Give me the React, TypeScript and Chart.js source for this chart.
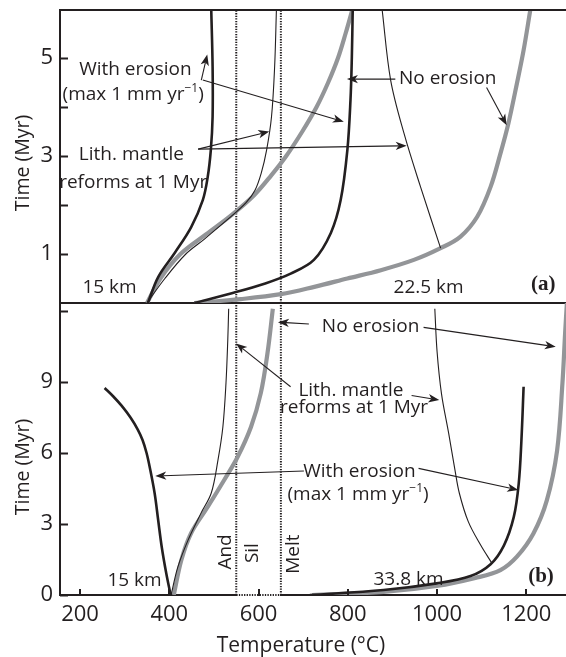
import React, { useEffect, useRef } from "react";
import { Chart, registerables } from "chart.js";

Chart.register(...registerables);

const SANS = '"Open Sans", "Noto Sans", "DejaVu Sans", sans-serif';
const SERIF = '"Liberation Serif", "DejaVu Serif", serif';
const INK = "#231f20";
const GREY = "#939598";

// ---------------- axes ----------------
const TEMP_MIN = 155;
const TEMP_MAX = 1289;
const TEMP_TICKS = [200, 400, 600, 800, 1000, 1200];
const A_TIME_MAX = 5.98;
const A_TIME_TICKS = [1, 2, 3, 4, 5];
const A_TIME_LABELS = [1, 3, 5];
const B_TIME_MAX = 12.34;
const B_TIME_TICKS = [0, 3, 6, 9, 12];
const B_TIME_LABELS = [0, 3, 6, 9];
const ISOGRADS = [550, 650]; // And/Sil and melt boundaries (°C)

// ---------------- panel (a) ----------------
// 15 km
const a15ErosionT = [352, 375, 412, 449, 475, 486, 493, 497, 497, 494];
const a15ErosionTime = [0, 0.53, 1.02, 1.55, 2.1, 2.57, 3.12, 3.8, 4.82, 5.98];
const a15NoErosionT = [350, 380, 425, 482, 540, 590, 628, 662, 698, 730, 756, 778, 795, 810];
const a15NoErosionTime = [0, 0.5, 1.0, 1.4, 1.8, 2.2, 2.6, 3.0, 3.5, 4.0, 4.5, 5.0, 5.5, 5.98];
const a15LithT = [350, 390, 437, 478, 530, 572, 592, 606, 618, 629, 636, 640];
const a15LithTime = [0, 0.5, 1.0, 1.3, 1.7, 2.05, 2.3, 2.65, 3.12, 3.8, 4.82, 5.98];
// 22.5 km
const a22ErosionT = [456, 540, 615, 672, 724, 762, 784, 799, 806, 809, 811];
const a22ErosionTime = [0, 0.2, 0.4, 0.6, 0.88, 1.43, 2.1, 3.12, 4.14, 5.0, 5.98];
const a22NoErosionT = [456, 560, 650, 725, 799, 874, 948, 1008, 1052, 1090, 1120, 1142, 1160, 1179, 1194, 1209];
const a22NoErosionTime = [0, 0.08, 0.18, 0.33, 0.5, 0.67, 0.88, 1.12, 1.35, 1.76, 2.37, 3.05, 3.67, 4.48, 5.16, 5.98];
const a22LithT = [1008, 963, 926, 896, 877];
const a22LithTime = [1.12, 2.37, 3.46, 4.55, 5.98];

// ---------------- panel (b) ----------------
// 15 km
const b15ErosionT = [403, 393, 383, 375, 367, 356, 349, 340, 329, 313, 293, 274, 255];
const b15ErosionTime = [0, 0.93, 2.03, 3.17, 4.31, 5.41, 6.0, 6.55, 7.0, 7.5, 8.0, 8.4, 8.75];
const b15NoErosionT = [410, 427, 449, 486, 523, 553, 583, 605, 620, 632];
const b15NoErosionTime = [0, 1.48, 2.62, 3.72, 4.86, 5.83, 7.1, 8.53, 10.22, 12.1];
const b15LithT = [404, 419, 442, 471, 494, 509, 520, 527, 531, 533];
const b15LithTime = [0, 1.18, 2.32, 3.46, 4.31, 5.7, 7.1, 8.96, 10.77, 12.1];
// 33.8 km
const b34ErosionT = [715, 880, 999, 1075, 1120, 1150, 1172, 1183, 1189, 1194];
const b34ErosionTime = [0, 0.21, 0.49, 0.8, 1.3, 2.1, 3.3, 4.7, 6.5, 8.8];
const b34NoErosionT = [720, 880, 999, 1086, 1142, 1179, 1216, 1246, 1269, 1281, 1287, 1291];
const b34NoErosionTime = [0, 0.13, 0.38, 0.72, 1.05, 1.62, 2.6, 4.0, 6.1, 8.94, 11.06, 12.34];
const b34LithT = [1123, 1098, 1070, 1050, 1040, 1026, 1010, 1000, 995];
const b34LithTime = [1.34, 2.1, 3.1, 4.3, 5.3, 6.84, 8.5, 10.3, 12.1];

// ---------------- annotations (data coordinates: T °C, t Myr) ----------------
type Part = { s: string; sup?: boolean };
type Note = { parts: Part[]; T: number; t: number; kind?: "serif" | "rot" };
type Arrow = [number, number, number, number];

const SUP_M1: Part[] = [{ s: "(max 1 mm yr" }, { s: "\u22121", sup: true }, { s: ")" }];

const A_NOTES: Note[] = [
  { parts: [{ s: "With erosion" }], T: 324, t: 4.65 },
  { parts: SUP_M1, T: 319, t: 4.14 },
  { parts: [{ s: "Lith. mantle" }], T: 315, t: 2.92 },
  { parts: [{ s: "reforms at 1 Myr" }], T: 319, t: 2.35 },
  { parts: [{ s: "No erosion" }], T: 1024, t: 4.47 },
  { parts: [{ s: "15 km" }], T: 266, t: 0.21 },
  { parts: [{ s: "22.5 km" }], T: 981, t: 0.21 },
  { parts: [{ s: "(a)" }], T: 1238, t: 0.265, kind: "serif" },
];
const A_ARROWS: Arrow[] = [
  [471.7, 4.55, 485, 5.07],
  [475, 4.55, 791, 3.7],
  [464.6, 3.14, 624, 3.5],
  [464.6, 3.14, 932, 3.21],
  [906.5, 4.57, 798, 4.57],
  [1111, 4.4, 1156, 3.63],
];

const B_NOTES: Note[] = [
  { parts: [{ s: "No erosion" }], T: 851, t: 11.12 },
  { parts: [{ s: "Lith. mantle" }], T: 807, t: 8.43 },
  { parts: [{ s: "reforms at 1 Myr" }], T: 814, t: 7.69 },
  { parts: [{ s: "With erosion" }], T: 826, t: 4.99 },
  { parts: SUP_M1, T: 823, t: 4.01 },
  { parts: [{ s: "And" }], T: 538, t: 1.82, kind: "rot" },
  { parts: [{ s: "Sil" }], T: 599, t: 1.77, kind: "rot" },
  { parts: [{ s: "Melt" }], T: 690, t: 1.73, kind: "rot" },
  { parts: [{ s: "15 km" }], T: 322, t: 0.38 },
  { parts: [{ s: "33.8 km" }], T: 936, t: 0.42 },
  { parts: [{ s: "(b)" }], T: 1233, t: 0.56, kind: "serif" },
];
const B_ARROWS: Arrow[] = [
  [712.7, 11.45, 643.5, 11.53],
  [969.8, 11.31, 1266, 10.49],
  [671.8, 8.8, 549.6, 10.63],
  [943, 8.43, 1005, 8.24],
  [701.6, 5.24, 368.5, 5.03],
  [958.6, 5.35, 1182, 4.44],
];

// ---------------- helpers ----------------
function pts(T: number[], time: number[]) {
  return T.map((x, i) => ({ x, y: time[i] }));
}

function line(T: number[], time: number[], kind: "thick" | "thin" | "grey") {
  const style =
    kind === "thick"
      ? { borderColor: INK, borderWidth: 2.6, order: 0 }
      : kind === "thin"
      ? { borderColor: INK, borderWidth: 1.1, order: 1 }
      : { borderColor: GREY, borderWidth: 4.2, order: 2 };
  return {
    data: pts(T, time),
    showLine: true,
    pointRadius: 0,
    tension: 0.35,
    fill: false,
    ...style,
  };
}

function isograd(T: number, tmax: number) {
  return {
    data: [
      { x: T, y: 0 },
      { x: T, y: tmax },
    ],
    showLine: true,
    pointRadius: 0,
    borderColor: INK,
    borderWidth: 2,
    borderDash: [1.3, 1.3],
    order: 3,
  };
}

function drawArrow(ctx: CanvasRenderingContext2D, x0: number, y0: number, x1: number, y1: number) {
  const a = Math.atan2(y1 - y0, x1 - x0);
  const L = 11;
  const W = 4.2;
  const c = Math.cos(a);
  const s = Math.sin(a);
  const bx = x1 - L * c;
  const by = y1 - L * s;
  const nx = x1 - (L - 3) * c;
  const ny = y1 - (L - 3) * s;
  ctx.beginPath();
  ctx.moveTo(x0, y0);
  ctx.lineTo(nx, ny);
  ctx.lineWidth = 1.1;
  ctx.strokeStyle = INK;
  ctx.stroke();
  ctx.beginPath();
  ctx.moveTo(x1, y1);
  ctx.lineTo(bx - W * s, by + W * c);
  ctx.lineTo(nx, ny);
  ctx.lineTo(bx + W * s, by - W * c);
  ctx.closePath();
  ctx.fillStyle = INK;
  ctx.fill();
}

function drawNote(ctx: CanvasRenderingContext2D, n: Note, x: number, y: number) {
  ctx.fillStyle = INK;
  ctx.textBaseline = "alphabetic";
  if (n.kind === "rot") {
    ctx.save();
    ctx.translate(x, y);
    ctx.rotate(-Math.PI / 2);
    ctx.font = `19px ${SANS}`;
    ctx.textAlign = "center";
    ctx.fillText(n.parts[0].s, 0, 0);
    ctx.restore();
    return;
  }
  const main = n.kind === "serif" ? `bold 21px ${SERIF}` : `19px ${SANS}`;
  const sup = `12px ${SANS}`;
  let total = 0;
  const widths = n.parts.map((p) => {
    ctx.font = p.sup ? sup : main;
    const w = ctx.measureText(p.s).width;
    total += w;
    return w;
  });
  let cx = x - total / 2;
  ctx.textAlign = "left";
  n.parts.forEach((p, i) => {
    ctx.font = p.sup ? sup : main;
    ctx.fillText(p.s, cx, p.sup ? y - 8 : y);
    cx += widths[i];
  });
}

type PanelCfg = {
  notes: Note[];
  arrows: Arrow[];
  yTicks: number[];
  xTicks: number[];
  topBorder: boolean;
  dottedBase: boolean;
  yTitle: [number, number];
  xTitle?: [number, number];
};

function makePlugin(cfg: PanelCfg) {
  return {
    id: "panelDecor",
    afterDraw(chart: any) {
      const { ctx, chartArea } = chart;
      const xs = chart.scales.x;
      const ys = chart.scales.y;
      ctx.save();
      ctx.strokeStyle = INK;
      ctx.lineWidth = 2;
      // inward ticks
      for (const v of cfg.yTicks) {
        const py = Math.round(ys.getPixelForValue(v)) + 0.5;
        ctx.beginPath();
        ctx.moveTo(chartArea.left, py);
        ctx.lineTo(chartArea.left + 8, py);
        ctx.stroke();
      }
      for (const v of cfg.xTicks) {
        const px = Math.round(xs.getPixelForValue(v));
        ctx.beginPath();
        ctx.moveTo(px, chartArea.bottom);
        ctx.lineTo(px, chartArea.bottom - 6);
        ctx.stroke();
      }
      if (cfg.topBorder) {
        ctx.beginPath();
        ctx.moveTo(chartArea.left - 1, chartArea.top);
        ctx.lineTo(chartArea.right, chartArea.top);
        ctx.stroke();
      }
      if (cfg.dottedBase) {
        const x0 = xs.getPixelForValue(ISOGRADS[0]);
        const x1 = xs.getPixelForValue(ISOGRADS[1]);
        ctx.fillStyle = "#fff";
        ctx.fillRect(x0 + 1, chartArea.bottom - 1.5, x1 - x0 - 2, 3);
        ctx.setLineDash([1.3, 1.3]);
        ctx.beginPath();
        ctx.moveTo(x0, chartArea.bottom);
        ctx.lineTo(x1, chartArea.bottom);
        ctx.stroke();
        ctx.setLineDash([]);
        for (const v of cfg.xTicks) {
          if (v > ISOGRADS[0] && v < ISOGRADS[1]) {
            const px = Math.round(xs.getPixelForValue(v));
            ctx.beginPath();
            ctx.moveTo(px, chartArea.bottom + 1);
            ctx.lineTo(px, chartArea.bottom - 6);
            ctx.stroke();
          }
        }
      }
      for (const [T0, t0, T1, t1] of cfg.arrows) {
        drawArrow(ctx, xs.getPixelForValue(T0), ys.getPixelForValue(t0), xs.getPixelForValue(T1), ys.getPixelForValue(t1));
      }
      for (const n of cfg.notes) {
        drawNote(ctx, n, xs.getPixelForValue(n.T), ys.getPixelForValue(n.t));
      }
      ctx.fillStyle = INK;
      ctx.font = `19.5px ${SANS}`;
      ctx.textAlign = "center";
      ctx.textBaseline = "alphabetic";
      ctx.save();
      ctx.translate(cfg.yTitle[0], cfg.yTitle[1]);
      ctx.rotate(-Math.PI / 2);
      ctx.fillText("Time (Myr)", 0, 0);
      ctx.restore();
      if (cfg.xTitle) {
        ctx.font = `21px ${SANS}`;
        ctx.textBaseline = "alphabetic";
        ctx.fillText("Temperature (\u00b0C)", cfg.xTitle[0], cfg.xTitle[1]);
      }
      ctx.restore();
    },
  };
}

function makeConfig(
  datasets: any[],
  yMax: number,
  yTicks: number[],
  yLabels: number[],
  showX: boolean,
  padTop: number,
  xHeight: number,
  plugin: any
) {
  return {
    type: "scatter" as const,
    data: { datasets },
    plugins: [plugin],
    options: {
      animation: false,
      responsive: false,
      devicePixelRatio: 1,
      events: [],
      layout: { padding: { top: padTop, left: 0, right: 0, bottom: 0 } },
      plugins: { legend: { display: false }, tooltip: { enabled: false } },
      scales: {
        x: {
          type: "linear",
          position: "bottom",
          min: TEMP_MIN,
          max: TEMP_MAX,
          afterBuildTicks: (s: any) => {
            s.ticks = TEMP_TICKS.map((v) => ({ value: v }));
          },
          afterFit: (s: any) => {
            s.height = xHeight;
            s.paddingLeft = 0;
            s.paddingRight = 0;
            s.paddingTop = 0;
            s.paddingBottom = 0;
          },
          grid: { display: false, drawTicks: false },
          border: { display: true, color: INK, width: 2 },
          ticks: {
            display: showX,
            maxRotation: 0,
            autoSkip: false,
            padding: 7,
            color: INK,
            font: { family: SANS, size: 22 },
            callback: (v: number) => String(v),
          },
        },
        y: {
          type: "linear",
          position: "left",
          min: 0,
          max: yMax,
          afterBuildTicks: (s: any) => {
            s.ticks = yTicks.map((v) => ({ value: v }));
          },
          afterFit: (s: any) => {
            s.width = 60;
            s.paddingLeft = 0;
            s.paddingRight = 0;
            s.paddingTop = 0;
            s.paddingBottom = 0;
          },
          grid: { display: false, drawTicks: false },
          border: { display: true, color: INK, width: 2 },
          ticks: {
            autoSkip: false,
            padding: 7,
            color: INK,
            font: { family: SANS, size: 22 },
            callback: (v: number) => (yLabels.includes(v) ? String(v) : ""),
          },
        },
      },
    },
  };
}

export default function App() {
  const refA = useRef<HTMLCanvasElement>(null);
  const refB = useRef<HTMLCanvasElement>(null);

  useEffect(() => {
    const dsA = [
      line(a15ErosionT, a15ErosionTime, "thick"),
      line(a22ErosionT, a22ErosionTime, "thick"),
      line(a15LithT, a15LithTime, "thin"),
      line(a22LithT, a22LithTime, "thin"),
      line(a15NoErosionT, a15NoErosionTime, "grey"),
      line(a22NoErosionT, a22NoErosionTime, "grey"),
      ...ISOGRADS.map((g) => isograd(g, A_TIME_MAX)),
    ];
    const dsB = [
      line(b15ErosionT, b15ErosionTime, "thick"),
      line(b34ErosionT, b34ErosionTime, "thick"),
      line(b15LithT, b15LithTime, "thin"),
      line(b34LithT, b34LithTime, "thin"),
      line(b15NoErosionT, b15NoErosionTime, "grey"),
      line(b34NoErosionT, b34NoErosionTime, "grey"),
      ...ISOGRADS.map((g) => isograd(g, B_TIME_MAX)),
    ];
    const plugA = makePlugin({
      notes: A_NOTES,
      arrows: A_ARROWS,
      yTicks: A_TIME_TICKS,
      xTicks: [],
      topBorder: true,
      dottedBase: false,
      yTitle: [29, 163],
    });
    const plugB = makePlugin({
      notes: B_NOTES,
      arrows: B_ARROWS,
      yTicks: B_TIME_TICKS,
      xTicks: TEMP_TICKS,
      topBorder: false,
      dottedBase: true,
      yTitle: [29, 167],
      xTitle: [301, 352],
    });
    const a = new Chart(refA.current as HTMLCanvasElement, makeConfig(dsA, A_TIME_MAX, A_TIME_TICKS, A_TIME_LABELS, false, 10, 7, plugA) as any);
    const b = new Chart(refB.current as HTMLCanvasElement, makeConfig(dsB, B_TIME_MAX, B_TIME_TICKS, B_TIME_LABELS, true, 3, 62, plugB) as any);
    return () => {
      a.destroy();
      b.destroy();
    };
  }, []);

  return (
    <div style={{ position: "absolute", left: 0, top: 0, width: 566, height: 657, background: "#fff", overflow: "hidden" }}>
      <canvas ref={refA} width={566} height={310} style={{ position: "absolute", left: 0, top: 0 }} />
      <canvas ref={refB} width={566} height={357} style={{ position: "absolute", left: 0, top: 300 }} />
    </div>
  );
}
